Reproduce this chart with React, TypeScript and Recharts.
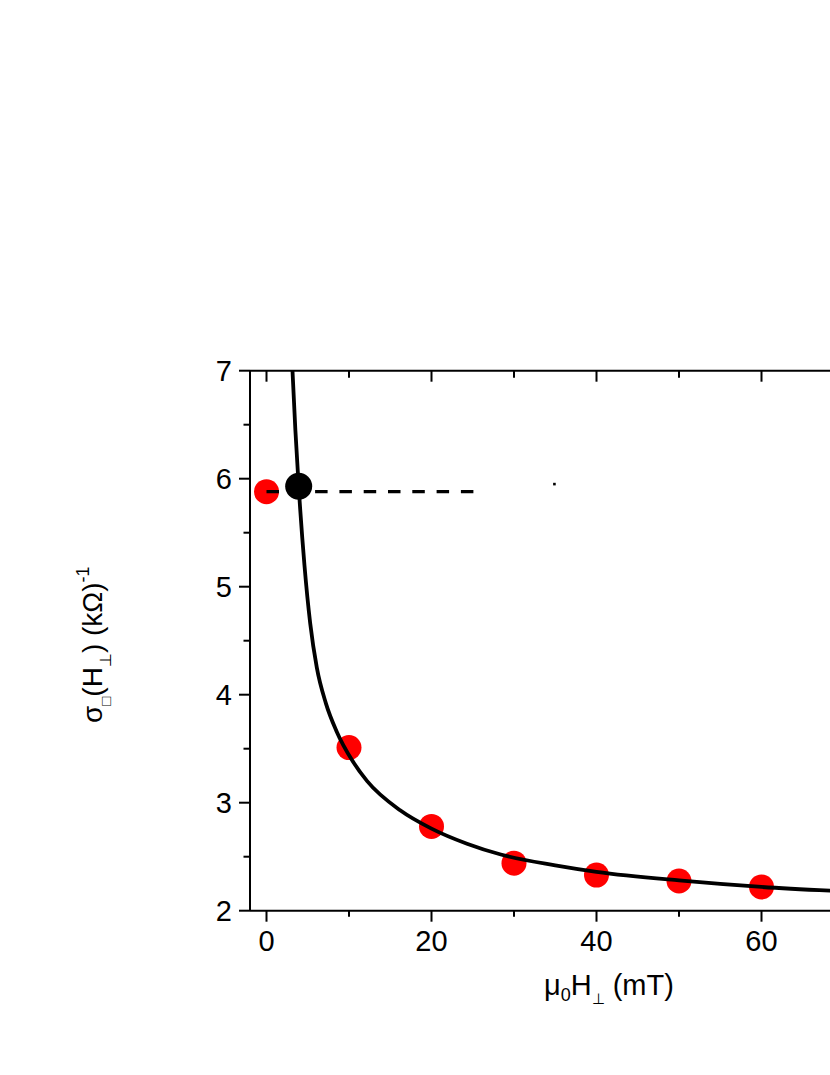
import React from 'react';
import { ComposedChart, Line, Scatter, XAxis, YAxis } from 'recharts';

// measured conductance (red circles)
const fieldValues = [0, 10, 20, 30, 40, 50, 60];
const sigmaValues = [5.88, 3.51, 2.78, 2.44, 2.33, 2.275, 2.22];

// fitted curve
const fitField = [3.15, 3.5, 3.9, 4.6, 5.3, 6.1, 7.2, 8.5, 10.4, 12.2, 16.2, 20, 24.3, 28.4, 35, 40, 50, 60, 70];
const fitSigma = [7.0, 6.45, 5.93, 5.2, 4.66, 4.25, 3.92, 3.66, 3.39, 3.2, 2.93, 2.76, 2.62, 2.52, 2.42, 2.36, 2.28, 2.22, 2.18];

// crossing point (black circle), dashed level line, stray mark
const crossField = [3.9];
const crossSigma = [5.93];
const levelField = [0, 25.1];
const levelSigma = [5.88, 5.88];
const markField = [34.9];
const markSigma = [5.95];

const xTicks = [0, 10, 20, 30, 40, 50, 60, 70];
const yTicks = [2, 2.5, 3, 3.5, 4, 4.5, 5, 5.5, 6, 6.5, 7];

const zip = (xs: number[], ys: number[]) => xs.map((x, i) => ({ x, y: ys[i] }));
const measured = zip(fieldValues, sigmaValues);
const fit = zip(fitField, fitSigma);
const cross = zip(crossField, crossSigma);
const level = zip(levelField, levelSigma);
const mark = zip(markField, markSigma);

const FONT = "'Liberation Sans', Arial, sans-serif";
const TS = 11;

const BottomTick = ({ x, y, payload }: any) => {
  const axisY = y - TS;
  const major = payload.value % 20 === 0;
  return (
    <g>
      <line x1={x} x2={x} y1={axisY} y2={axisY + (major ? 11 : 6)} stroke="#000" strokeWidth={2} />
      {major && (
        <text x={x} y={axisY + 40} textAnchor="middle" fontSize={29} fontFamily={FONT} fill="#000">
          {payload.value}
        </text>
      )}
    </g>
  );
};

// top frame: ticks point inward
const TopTick = ({ x, y, payload }: any) => {
  const axisY = y + TS;
  const major = payload.value % 20 === 0;
  return <line x1={x} x2={x} y1={axisY} y2={axisY + (major ? 11 : 7)} stroke="#000" strokeWidth={2} />;
};

const LeftTick = ({ x, y, payload }: any) => {
  const axisX = x + TS;
  const major = Number.isInteger(payload.value);
  return (
    <g>
      <line x1={axisX - (major ? 11 : 6.5)} x2={axisX} y1={y} y2={y} stroke="#000" strokeWidth={2} />
      {major && (
        <text x={axisX - 18} y={y + 10} textAnchor="end" fontSize={29} fontFamily={FONT} fill="#000">
          {payload.value}
        </text>
      )}
    </g>
  );
};

const XTitle = ({ viewBox }: any) => {
  const cx = viewBox.x + viewBox.width / 2;
  const by = viewBox.y + 84.5;
  return (
    <text x={cx} y={by} textAnchor="middle" fontSize={29} fontFamily={FONT} fill="#000">
      μ<tspan fontSize={18} dy={6}>0</tspan>
      <tspan dy={-6}>H</tspan>
      <tspan fontSize={15} dy={9}>⊥</tspan>
      <tspan dy={-9}> (mT)</tspan>
    </text>
  );
};

const YTitle = ({ viewBox }: any) => {
  const bx = viewBox.x + 102;
  const cy = viewBox.y + viewBox.height / 2 + 4;
  return (
    <text x={bx} y={cy} transform={`rotate(-90 ${bx} ${cy})`} textAnchor="middle" fontSize={28} fontFamily={FONT} fill="#000">
      σ<tspan fontSize={15} dy={9}>□</tspan>
      <tspan dy={-9}>(H</tspan>
      <tspan fontSize={16} dy={9}>⊥</tspan>
      <tspan dy={-9}>) (kΩ)</tspan>
      <tspan fontSize={18} dy={-13}>-1</tspan>
    </text>
  );
};

const RedDot = (p: any) => <circle cx={p.cx} cy={p.cy} r={12.5} fill="#ff0000" />;
const BlackDot = (p: any) => <circle cx={p.cx} cy={p.cy} r={13.5} fill="#000" />;
const Speck = (p: any) => <rect x={p.cx - 1.3} y={p.cy - 1.3} width={2.6} height={2.6} fill="#000" />;

export default function App() {
  return (
    <div style={{ position: 'absolute', left: 0, top: 0, width: 830, height: 1060, overflow: 'hidden' }}>
      <ComposedChart
        width={978}
        height={1060}
        margin={{ top: 369.7, right: 10.25, bottom: 49.3, left: 0 }}
      >
        <XAxis
          dataKey="x"
          type="number"
          domain={[-2, 85]}
          ticks={xTicks}
          interval={0}
          height={100}
          tickSize={TS}
          tickMargin={0}
          tickLine={false}
          tick={BottomTick}
          axisLine={{ stroke: '#000', strokeWidth: 2 }}
          label={XTitle}
        />
        <XAxis
          xAxisId="top"
          orientation="top"
          dataKey="x"
          type="number"
          domain={[-2, 85]}
          ticks={xTicks}
          interval={0}
          height={1}
          tickSize={TS}
          tickMargin={0}
          tickLine={false}
          tick={TopTick}
          axisLine={{ stroke: '#000', strokeWidth: 2 }}
        />
        <YAxis
          dataKey="y"
          type="number"
          domain={[2, 7]}
          ticks={yTicks}
          interval={0}
          width={250}
          tickSize={TS}
          tickMargin={0}
          tickLine={false}
          tick={LeftTick}
          axisLine={{ stroke: '#000', strokeWidth: 2 }}
          label={YTitle}
        />
        <Scatter data={measured} dataKey="y" fill="#ff0000" shape={RedDot} zIndex={300} isAnimationActive={false} />
        <Line data={fit} dataKey="y" type="monotone" stroke="#000" strokeWidth={3.8} dot={false} activeDot={false} isAnimationActive={false} />
        <Line data={level} dataKey="y" type="linear" stroke="#000" strokeWidth={3.2} strokeDasharray="12.5 11.8" dot={false} activeDot={false} isAnimationActive={false} />
        <Scatter data={cross} dataKey="y" fill="#000" shape={BlackDot} isAnimationActive={false} />
        <Scatter xAxisId="top" data={mark} dataKey="y" fill="#000" shape={Speck} isAnimationActive={false} />
      </ComposedChart>
    </div>
  );
}
